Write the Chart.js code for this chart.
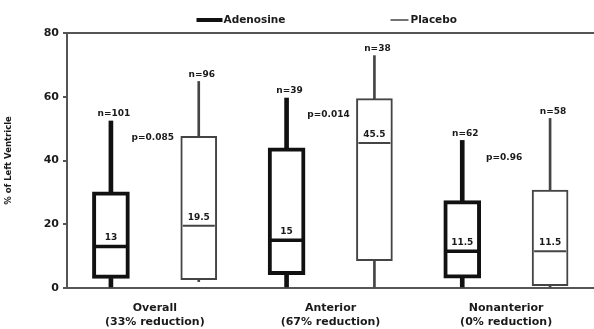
<!DOCTYPE html>
<html>
<head>
<meta charset="utf-8">
<script src="https://cdn.jsdelivr.net/npm/chart.js@4.4.0/dist/chart.umd.min.js"></script>
<style>
  body { margin: 0; background: #fff; }
</style>
</head>
<body>
<canvas id="myChart" width="594" height="329"></canvas>
<script>
// groups on the x axis
const groups = [['Overall', '(33% reduction)'], ['Anterior', '(67% reduction)'], ['Nonanterior', '(0% reduction)']];

// Adenosine boxes
const adenMin = [0, 0, 0];
const adenQ1 = [3, 4.2, 3.1];
const adenMed = [13, 15, 11.5];
const adenQ3 = [30.2, 44, 27.4];
const adenMax = [52.4, 59.6, 46.3];
const adenN = [101, 39, 62];

// Placebo boxes
const placMin = [2, 0, 0];
const placQ1 = [2.6, 8.6, 0.7];
const placMed = [19.5, 45.5, 11.5];
const placQ3 = [47.6, 59.4, 30.7];
const placMax = [64.8, 72.9, 53.2];
const placN = [96, 38, 58];

const pValues = ['p=0.085', 'p=0.014', 'p=0.96'];
const yTicks = [0, 20, 40, 60, 80];

const FONT = '"DejaVu Sans", sans-serif';
const AXIS = '#555';
const TEXT = '#1a1a1a';

function ranges(lo, hi) {
  return lo.map((v, i) => [v, hi[i]]);
}

// medians, n= and p= labels, top frame line and the legend
const boxExtras = {
  id: 'boxExtras',
  afterDatasetsDraw(chart) {
    const ctx = chart.ctx;
    const y = chart.scales.y;
    const x = chart.scales.x;
    const area = chart.chartArea;
    ctx.save();

    ctx.strokeStyle = AXIS;
    ctx.lineWidth = 2;
    ctx.beginPath();
    ctx.moveTo(area.left, y.getPixelForValue(80));
    ctx.lineTo(chart.width, y.getPixelForValue(80));
    ctx.stroke();

    const sets = [
      { meta: chart.getDatasetMeta(0), med: adenMed, max: adenMax, n: adenN, lw: 3.5, color: '#111' },
      { meta: chart.getDatasetMeta(3), med: placMed, max: placMax, n: placN, lw: 2, color: '#444' }
    ];
    ctx.textAlign = 'center';
    ctx.textBaseline = 'middle';
    ctx.fillStyle = TEXT;
    ctx.font = 'bold 9px ' + FONT;
    sets.forEach(s => {
      s.meta.data.forEach((bar, i) => {
        const half = bar.width / 2;
        const my = y.getPixelForValue(s.med[i]);
        ctx.strokeStyle = s.color;
        ctx.lineWidth = s.lw;
        ctx.beginPath();
        ctx.moveTo(bar.x - half + 2, my);
        ctx.lineTo(bar.x + half - 2, my);
        ctx.stroke();
        ctx.fillText(String(s.med[i]), bar.x, my - 8.5);
        ctx.fillText('n=' + s.n[i], bar.x + 3, y.getPixelForValue(s.max[i]) - 7);
      });
    });

    pValues.forEach((p, i) => {
      ctx.fillText(p, x.getPixelForValue(i) - 2, y.getPixelForValue(adenMax[i]) + 17);
    });

    // legend
    const cx = (area.left + area.right) / 2;
    const ly = 20;
    ctx.font = 'bold 10.5px ' + FONT;
    ctx.textAlign = 'left';
    ctx.strokeStyle = '#111';
    ctx.lineWidth = 4;
    ctx.beginPath();
    ctx.moveTo(cx - 134, ly);
    ctx.lineTo(cx - 108, ly);
    ctx.stroke();
    ctx.fillText(chart.data.datasets[0].label, cx - 107, ly);
    ctx.strokeStyle = '#444';
    ctx.lineWidth = 1.5;
    ctx.beginPath();
    ctx.moveTo(cx + 60, ly);
    ctx.lineTo(cx + 78, ly);
    ctx.stroke();
    ctx.fillText(chart.data.datasets[3].label, cx + 80, ly);
    ctx.restore();
  }
};

function boxSet(label, data, stack, color, width, thick) {
  return {
    label: label,
    data: data,
    stack: stack,
    backgroundColor: '#fff',
    borderColor: color,
    borderWidth: width,
    borderSkipped: false,
    maxBarThickness: thick
  };
}

function whiskerSet(label, data, stack, color, thick) {
  return {
    label: label,
    data: data,
    stack: stack,
    backgroundColor: color,
    borderWidth: 0,
    maxBarThickness: thick
  };
}

function draw(chart) {
  myChart = new Chart(chart, {
    type: 'bar',
    data: {
      labels: groups,
      datasets: [
        boxSet('Adenosine', ranges(adenQ1, adenQ3), 'aden', '#111', 4, 37),
        whiskerSet('Adenosine low', ranges(adenMin, adenQ1), 'aden', '#111', 4),
        whiskerSet('Adenosine high', ranges(adenQ3, adenMax), 'aden', '#111', 4),
        boxSet('Placebo', ranges(placQ1, placQ3), 'plac', '#444', 2, 36),
        whiskerSet('Placebo low', ranges(placMin, placQ1), 'plac', '#444', 2),
        whiskerSet('Placebo high', ranges(placQ3, placMax), 'plac', '#444', 2)
      ]
    },
    options: {
      responsive: false,
      devicePixelRatio: 1,
      animation: false,
      categoryPercentage: 1,
      barPercentage: 1,
      layout: { padding: { top: 33, right: 0, left: 0, bottom: 0 } },
      plugins: {
        legend: { display: false },
        tooltip: { enabled: false }
      },
      scales: {
        x: {
          stacked: true,
          afterFit: s => { s.height = 41; },
          grid: { display: false },
          border: { display: true, color: AXIS, width: 2 },
          ticks: {
            color: TEXT,
            padding: 5,
            font: { family: FONT, size: 11, weight: 'bold', lineHeight: 1.3 }
          }
        },
        y: {
          stacked: false,
          min: 0,
          max: 80,
          afterFit: s => { s.width = 67; },
          afterBuildTicks: s => { s.ticks = yTicks.map(v => ({ value: v })); },
          grid: { drawOnChartArea: false, color: AXIS, tickLength: 4, lineWidth: 2 },
          border: { display: true, color: AXIS, width: 2 },
          ticks: {
            color: TEXT,
            padding: 4,
            font: { family: FONT, size: 11, weight: 'bold' }
          },
          title: {
            display: true,
            text: '% of Left Ventricle',
            color: TEXT,
            padding: { top: 4, bottom: 4 },
            font: { family: FONT, size: 8.5, weight: 'bold' }
          }
        }
      }
    },
    plugins: [boxExtras]
  });
}

let myChart;
window.addEventListener('load', setup);

function setup() {
  var ctx = document.getElementById('myChart').getContext('2d');
  draw(ctx);
}
</script>
</body>
</html>
